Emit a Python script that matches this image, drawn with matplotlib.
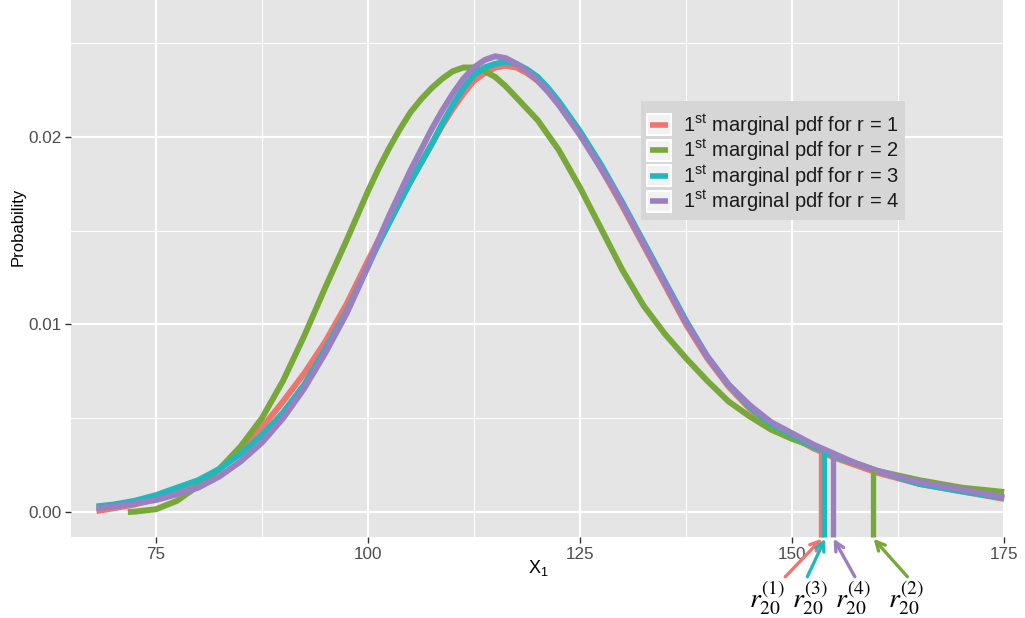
import matplotlib
matplotlib.use('Agg')
import matplotlib.pyplot as plt
from matplotlib.legend_handler import HandlerBase
from matplotlib.patches import Rectangle
from matplotlib.lines import Line2D

plt.rcParams['font.family'] = ['Liberation Sans', 'DejaVu Sans']
plt.rcParams['mathtext.fontset'] = 'custom'
plt.rcParams['mathtext.rm'] = 'Liberation Sans'

# values
x_grid = [68, 70, 72.5, 75, 77.5, 80, 82.5, 85, 87.5, 90, 92.5, 95, 97.5,
          100, 101.25, 102.5, 103.75, 105, 106.25, 107.5, 108.75, 110, 111.25,
          112.5, 113.75, 115, 116.25, 117.5, 118.75, 120, 121.25, 122.5, 123.75,
          125, 126.25, 127.5, 128.75, 130,
          132.5, 135, 137.5, 140, 142.5, 145, 147.5, 150, 152.5, 155, 157.5, 160,
          165, 170, 175]
pdf_r1 = [0.00005, 0.0002, 0.0004, 0.0007, 0.0011, 0.0016, 0.0023, 0.0033, 0.0045,
          0.0059, 0.0074, 0.0091, 0.0111,
          0.0134, 0.0145, 0.0156, 0.0166, 0.0176, 0.0186, 0.0196, 0.0206, 0.0215,
          0.0223, 0.0230, 0.0234, 0.0237, 0.0238, 0.0237, 0.0234, 0.0230, 0.0225,
          0.0218, 0.0210, 0.0202, 0.0193, 0.0183, 0.0173, 0.0163,
          0.0142, 0.0121, 0.0100, 0.0082, 0.0067, 0.0055, 0.0046, 0.0040, 0.0034,
          0.0029, 0.0025, 0.0021,
          0.0015, 0.0011, 0.0007]
pdf_r3 = [0.0003, 0.0004, 0.0006, 0.0009, 0.0013, 0.0017, 0.0023, 0.0031, 0.0041,
          0.0053, 0.0068, 0.0087, 0.0107,
          0.0131, 0.0143, 0.0154, 0.0165, 0.0176, 0.0186, 0.0196, 0.0207, 0.0217,
          0.0226, 0.0233, 0.0237, 0.0239, 0.0240, 0.0239, 0.0236, 0.0232, 0.0226,
          0.0219, 0.0211, 0.0203, 0.0194, 0.0185, 0.0175, 0.0165,
          0.0144, 0.0123, 0.0102, 0.0083, 0.0068, 0.0056, 0.0047, 0.0041, 0.0035,
          0.0030, 0.0026, 0.0022,
          0.0015, 0.0011, 0.00075]
pdf_r4 = [0.0002, 0.0003, 0.00045, 0.00064, 0.00095, 0.0013, 0.0019, 0.0027, 0.0037,
          0.0050, 0.0066, 0.0085, 0.0106,
          0.0131, 0.0145, 0.0158, 0.0170, 0.0182, 0.0193, 0.0204, 0.0214, 0.0223,
          0.0231, 0.0237, 0.0241, 0.0243, 0.0242, 0.0239, 0.0235, 0.0230, 0.0224,
          0.0217, 0.0209, 0.0201, 0.0192, 0.0183, 0.0174, 0.0164,
          0.0143, 0.0122, 0.0101, 0.0083, 0.0068, 0.0057, 0.0048, 0.0042, 0.0036,
          0.0031, 0.0026, 0.0022,
          0.0016, 0.0012, 0.0008]
x_r2 = [71.7] + x_grid[2:]
pdf_r2 = [0.0,
          0.00002, 0.00015, 0.0006, 0.0014, 0.0023, 0.0035, 0.0050, 0.0070, 0.0094,
          0.0120, 0.0145,
          0.0171, 0.0183, 0.0194, 0.0204, 0.0213, 0.0220, 0.0226, 0.0231, 0.0235,
          0.0237, 0.0237, 0.0235, 0.0232, 0.0227, 0.0221, 0.0215, 0.0209, 0.0201,
          0.0193, 0.0183, 0.0173, 0.0162, 0.0151, 0.0140, 0.0129,
          0.0110, 0.0095, 0.0082, 0.0070, 0.0059, 0.0051, 0.0044, 0.0039, 0.0035,
          0.0030, 0.0026, 0.0022,
          0.0017, 0.0013, 0.00107]

# r20 positions and pdf height there (order r = 1, 2, 3, 4)
r20_x = [153.4, 159.5, 153.8, 154.8]
r20_y = [0.0032, 0.00224, 0.0032, 0.00313]
r20_lab = ['(1)', '(2)', '(3)', '(4)']
lab_x = [147.0, 163.4, 152.1, 157.2]
tail_x = [149.2, 163.6, 151.8, 157.4]

colors = ['#F0756E', '#78A83A', '#20B8BC', '#9A80C0']
labels = [r'1$^{\mathrm{st}}$ marginal pdf for r = %d' % i for i in range(1, 5)]

fig = plt.figure(figsize=(10.25, 6.18), dpi=100)
ax = fig.add_axes([71/1025, 1-537/618, (1005-71)/1025, 537/618])
ax.set_facecolor('#E5E5E5')
for s in ax.spines.values():
    s.set_visible(False)

ymin, ymax = -0.00133, 0.0273
ax.set_xlim(65, 175.1)
ax.set_ylim(ymin, ymax)
ax.set_xticks([75, 100, 125, 150, 175])
ax.set_yticks([0.0, 0.01, 0.02])
ax.set_yticklabels(['0.00', '0.01', '0.02'])
ax.set_xticks([87.5, 112.5, 137.5, 162.5], minor=True)
ax.set_yticks([0.005, 0.015, 0.025], minor=True)
ax.grid(which='major', color='white', lw=1.6)
ax.grid(which='minor', color='white', lw=0.8)
ax.set_axisbelow(True)
ax.tick_params(which='major', length=4, width=1, color='#333333',
               labelsize=12.3, labelcolor='#4D4D4D', pad=3)
ax.tick_params(which='minor', length=0)

series = [(x_grid, pdf_r1), (x_r2, pdf_r2), (x_grid, pdf_r3), (x_grid, pdf_r4)]
handles = []
for (xs, ys), c, lab in zip(series, colors, labels):
    h, = ax.plot(xs, ys, color=c, lw=4.3, label=lab, solid_capstyle='butt',
                 solid_joinstyle='round')
    handles.append(h)

for i in [0, 1, 2, 3]:
    ax.plot([r20_x[i], r20_x[i]], [ymin, r20_y[i]], color=colors[i], lw=3.8,
            solid_capstyle='butt', clip_on=False)

tip_y = -0.00142
tail_y = -0.00345
for i in range(4):
    ax.annotate('', xy=(r20_x[i] + 0.1, tip_y), xytext=(tail_x[i], tail_y),
                arrowprops=dict(arrowstyle='->', lw=2.4, color=colors[i],
                                mutation_scale=16, shrinkA=0, shrinkB=0),
                annotation_clip=False)
    ax.text(lab_x[i], -0.0046, r'$r_{20}^{%s}$' % r20_lab[i], ha='center', va='center',
            fontsize=20, math_fontfamily='stix', color='black', clip_on=False)


class KeyBox(HandlerBase):
    def create_artists(self, legend, orig_handle, xdescent, ydescent, width,
                       height, fontsize, trans):
        r = Rectangle((-xdescent, -ydescent), width, height, facecolor='#F2F2F2',
                      edgecolor='white', lw=1.5, transform=trans)
        yc = -ydescent + height / 2
        ln = Line2D([-xdescent + 0.12 * width, -xdescent + 0.88 * width], [yc, yc],
                    color=orig_handle.get_color(), lw=4, solid_capstyle='butt',
                    transform=trans)
        return [r, ln]


leg = ax.legend(handles=handles, loc='upper left',
                bbox_to_anchor=(641/1025, 1-101/618), bbox_transform=fig.transFigure,
                fontsize=14.5, handler_map={Line2D: KeyBox()}, handlelength=1.19,
                handleheight=1.24, labelspacing=0, handletextpad=0.6,
                borderpad=0.3, borderaxespad=0, fancybox=False, framealpha=1,
                title=' ', title_fontsize=4)
leg.get_frame().set_facecolor('#D6D6D6')
leg.get_frame().set_edgecolor('none')
for t in leg.get_texts():
    t.set_color('#1A1A1A')

ax.set_xlabel('X$_1$', fontsize=13, color='black')
ax.xaxis.label.set_va('center')
ax.xaxis.set_label_coords(0.5, (537 - 568) / 537)
ax.set_ylabel('Probability', fontsize=12, color='black')
ax.yaxis.label.set_va('center')
ax.yaxis.set_label_coords((18 - 71) / 934, (537 - 227) / 537)

fig.savefig('out.png', dpi=100)
